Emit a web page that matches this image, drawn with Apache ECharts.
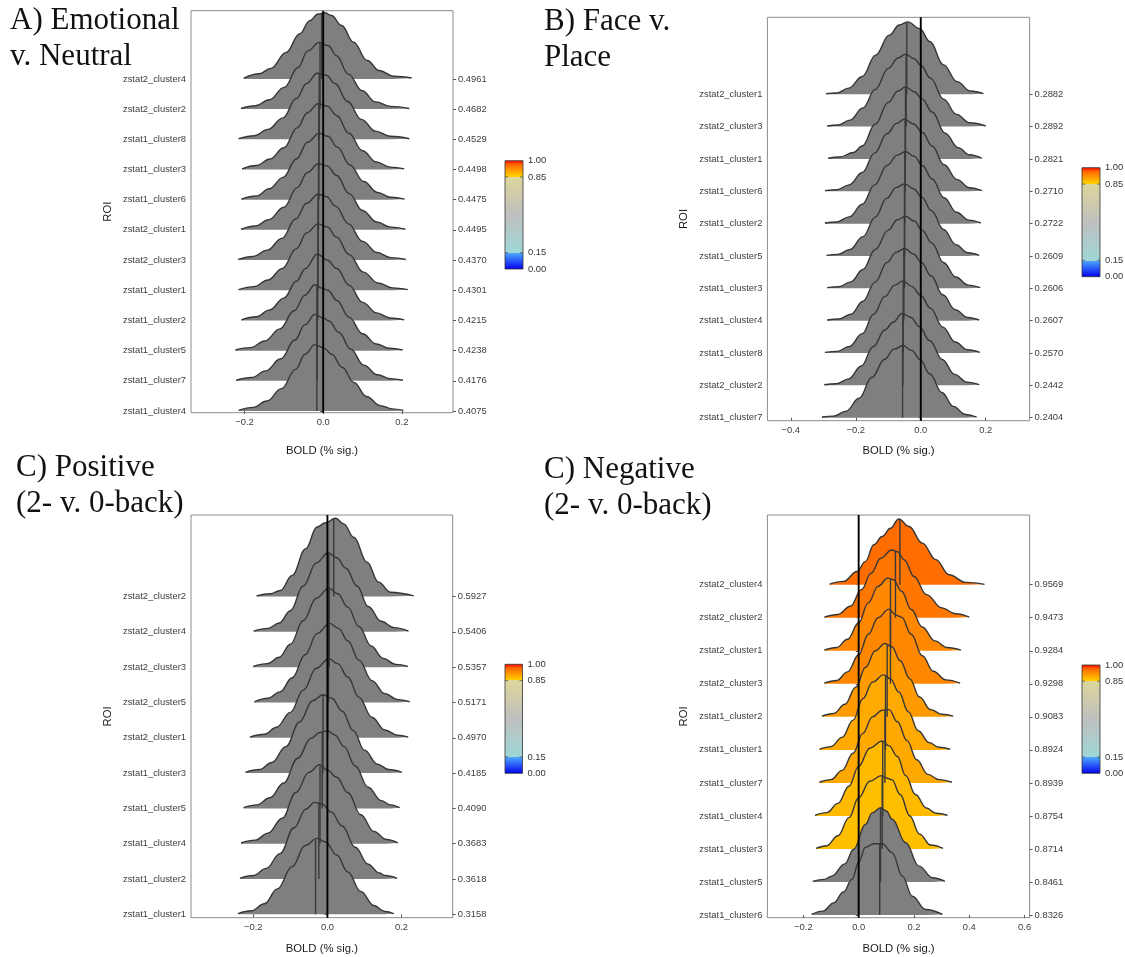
<!DOCTYPE html>
<html>
<head>
<meta charset="utf-8">
<script src="https://cdn.jsdelivr.net/npm/echarts@6/dist/echarts.min.js"></script>
<style>
html, body { margin: 0; padding: 0; background: #fff; }
#chart { width: 1125px; height: 957px; }
</style>
</head>
<body>
<div id="chart"></div>
<script>
// ---- data, ridges listed top to bottom; points are [BOLD, density height in ridge spacings]
var namesA = ['zstat2_cluster4','zstat2_cluster2','zstat1_cluster8','zstat1_cluster3','zstat1_cluster6','zstat2_cluster1',
              'zstat2_cluster3','zstat1_cluster1','zstat1_cluster2','zstat1_cluster5','zstat1_cluster7','zstat1_cluster4'];
var probsA = [0.4961,0.4682,0.4529,0.4498,0.4475,0.4495,0.4370,0.4301,0.4215,0.4238,0.4176,0.4075];
var mediansA = [-0.004,-0.008,-0.010,-0.011,-0.011,-0.012,-0.013,-0.013,-0.014,-0.016,-0.016,-0.016];
var ridgesA = [
  [[-0.202,0.02],[-0.163,0.17],[-0.133,0.35],[-0.094,0.88],[-0.060,1.49],[-0.034,1.93],[-0.013,2.15],[0.004,2.19],[0.021,2.10],[0.047,1.77],[0.077,1.22],[0.112,0.61],[0.142,0.28],[0.180,0.09],[0.225,0.03]],
  [[-0.209,0.02],[-0.172,0.11],[-0.137,0.31],[-0.099,0.72],[-0.064,1.38],[-0.039,1.93],[-0.010,2.21],[0.013,2.10],[0.034,1.77],[0.064,1.16],[0.099,0.61],[0.133,0.24],[0.172,0.09],[0.219,0.02]],
  [[-0.215,0.02],[-0.175,0.12],[-0.140,0.33],[-0.103,0.70],[-0.068,1.35],[-0.042,1.85],[-0.015,2.19],[0.008,2.12],[0.030,1.85],[0.062,1.25],[0.097,0.66],[0.133,0.27],[0.170,0.10],[0.219,0.02]],
  [[-0.206,0.02],[-0.170,0.13],[-0.135,0.35],[-0.100,0.72],[-0.066,1.38],[-0.040,1.88],[-0.013,2.18],[0.010,2.10],[0.035,1.78],[0.065,1.20],[0.100,0.62],[0.135,0.25],[0.170,0.08],[0.206,0.02]],
  [[-0.208,0.02],[-0.170,0.12],[-0.137,0.36],[-0.102,0.74],[-0.068,1.35],[-0.040,1.90],[-0.010,2.20],[0.012,2.10],[0.036,1.74],[0.068,1.15],[0.103,0.60],[0.138,0.24],[0.172,0.08],[0.207,0.02]],
  [[-0.209,0.02],[-0.172,0.13],[-0.138,0.34],[-0.100,0.75],[-0.066,1.40],[-0.040,1.90],[-0.012,2.19],[0.010,2.12],[0.034,1.80],[0.066,1.20],[0.100,0.64],[0.136,0.26],[0.172,0.09],[0.209,0.02]],
  [[-0.216,0.02],[-0.178,0.12],[-0.142,0.33],[-0.105,0.72],[-0.070,1.36],[-0.042,1.88],[-0.013,2.18],[0.008,2.10],[0.032,1.78],[0.064,1.20],[0.100,0.62],[0.137,0.25],[0.172,0.08],[0.210,0.02]],
  [[-0.215,0.02],[-0.176,0.12],[-0.140,0.34],[-0.104,0.72],[-0.068,1.38],[-0.042,1.90],[-0.013,2.20],[0.010,2.10],[0.034,1.76],[0.066,1.18],[0.102,0.60],[0.140,0.24],[0.176,0.08],[0.215,0.02]],
  [[-0.208,0.02],[-0.170,0.12],[-0.136,0.35],[-0.100,0.74],[-0.068,1.30],[-0.045,1.72],[-0.015,2.20],[0.010,2.00],[0.035,1.72],[0.066,1.16],[0.100,0.60],[0.136,0.25],[0.170,0.08],[0.206,0.02]],
  [[-0.223,0.02],[-0.185,0.10],[-0.148,0.32],[-0.110,0.72],[-0.074,1.32],[-0.046,1.84],[-0.021,2.18],[0.000,2.05],[0.012,2.00],[0.035,1.66],[0.066,1.10],[0.100,0.56],[0.135,0.22],[0.168,0.08],[0.202,0.02]],
  [[-0.221,0.02],[-0.182,0.11],[-0.146,0.33],[-0.108,0.73],[-0.072,1.35],[-0.046,1.86],[-0.021,2.20],[0.000,2.08],[0.015,1.98],[0.040,1.60],[0.070,1.05],[0.103,0.52],[0.138,0.20],[0.170,0.07],[0.203,0.02]],
  [[-0.215,0.02],[-0.178,0.12],[-0.143,0.33],[-0.106,0.74],[-0.070,1.38],[-0.046,1.88],[-0.021,2.20],[0.000,2.10],[0.022,1.88],[0.048,1.45],[0.078,0.95],[0.110,0.48],[0.145,0.18],[0.175,0.07],[0.204,0.02]]
];

var namesB = ['zstat2_cluster1','zstat2_cluster3','zstat1_cluster1','zstat1_cluster6','zstat1_cluster2','zstat1_cluster5',
              'zstat1_cluster3','zstat1_cluster4','zstat1_cluster8','zstat2_cluster2','zstat1_cluster7'];
var probsB = [0.2882,0.2892,0.2821,0.2710,0.2722,0.2609,0.2606,0.2607,0.2570,0.2442,0.2404];
var mediansB = [-0.043,-0.045,-0.047,-0.048,-0.049,-0.050,-0.050,-0.052,-0.054,-0.055,-0.056];
var ridgesB = [
  [[-0.292,0.02],[-0.259,0.04],[-0.222,0.19],[-0.180,0.55],[-0.139,1.21],[-0.097,1.83],[-0.066,2.14],[-0.040,2.24],[-0.003,2.03],[0.028,1.63],[0.070,0.91],[0.112,0.39],[0.153,0.10],[0.193,0.02]],
  [[-0.288,0.02],[-0.255,0.05],[-0.218,0.20],[-0.178,0.58],[-0.140,1.15],[-0.100,1.80],[-0.070,2.12],[-0.047,2.24],[-0.020,2.10],[0.000,1.90],[0.030,1.50],[0.070,0.85],[0.110,0.38],[0.150,0.12],[0.200,0.02]],
  [[-0.285,0.02],[-0.250,0.06],[-0.207,0.20],[-0.180,0.40],[-0.140,1.08],[-0.100,1.75],[-0.070,2.10],[-0.047,2.23],[-0.020,2.08],[0.005,1.85],[0.035,1.45],[0.075,0.80],[0.115,0.35],[0.150,0.13],[0.188,0.02]],
  [[-0.295,0.02],[-0.258,0.05],[-0.220,0.20],[-0.180,0.58],[-0.142,1.18],[-0.104,1.78],[-0.074,2.10],[-0.050,2.23],[-0.022,2.08],[0.005,1.82],[0.035,1.40],[0.072,0.82],[0.112,0.36],[0.150,0.11],[0.188,0.02]],
  [[-0.295,0.02],[-0.258,0.05],[-0.220,0.21],[-0.180,0.60],[-0.142,1.20],[-0.104,1.80],[-0.072,2.12],[-0.047,2.23],[-0.020,2.08],[0.005,1.80],[0.035,1.38],[0.072,0.80],[0.110,0.35],[0.148,0.11],[0.185,0.02]],
  [[-0.290,0.02],[-0.255,0.05],[-0.218,0.20],[-0.178,0.60],[-0.140,1.20],[-0.105,1.78],[-0.075,2.12],[-0.050,2.23],[-0.022,2.08],[0.003,1.82],[0.033,1.40],[0.070,0.82],[0.108,0.35],[0.145,0.10],[0.180,0.02]],
  [[-0.288,0.02],[-0.252,0.05],[-0.215,0.20],[-0.178,0.58],[-0.140,1.20],[-0.100,1.80],[-0.072,2.12],[-0.047,2.23],[-0.020,2.08],[0.004,1.80],[0.034,1.40],[0.070,0.80],[0.108,0.35],[0.146,0.10],[0.183,0.02]],
  [[-0.288,0.02],[-0.252,0.05],[-0.215,0.20],[-0.178,0.60],[-0.140,1.20],[-0.104,1.80],[-0.075,2.12],[-0.050,2.23],[-0.022,2.06],[0.002,1.80],[0.032,1.38],[0.068,0.80],[0.106,0.34],[0.144,0.10],[0.180,0.02]],
  [[-0.295,0.02],[-0.258,0.05],[-0.220,0.20],[-0.180,0.60],[-0.145,1.20],[-0.110,1.75],[-0.080,2.10],[-0.055,2.23],[-0.028,2.06],[0.000,1.78],[0.030,1.38],[0.068,0.80],[0.106,0.34],[0.144,0.10],[0.182,0.02]],
  [[-0.297,0.02],[-0.260,0.05],[-0.222,0.20],[-0.183,0.60],[-0.146,1.20],[-0.110,1.72],[-0.085,1.95],[-0.058,2.22],[-0.030,2.10],[-0.005,1.82],[0.028,1.38],[0.066,0.80],[0.104,0.34],[0.142,0.10],[0.180,0.02]],
  [[-0.304,0.02],[-0.268,0.05],[-0.230,0.20],[-0.190,0.60],[-0.150,1.25],[-0.112,1.80],[-0.082,2.12],[-0.055,2.23],[-0.028,2.08],[-0.002,1.80],[0.028,1.35],[0.065,0.78],[0.100,0.35],[0.138,0.10],[0.172,0.02]]
];

var namesC = ['zstat2_cluster2','zstat2_cluster4','zstat2_cluster3','zstat2_cluster5','zstat2_cluster1',
              'zstat1_cluster3','zstat1_cluster5','zstat1_cluster4','zstat1_cluster2','zstat1_cluster1'];
var probsC = [0.5927,0.5406,0.5357,0.5171,0.4970,0.4185,0.4090,0.3683,0.3618,0.3158];
var mediansC = [0.017,0.004,0.005,0.003,0.001,-0.012,-0.014,-0.020,-0.023,-0.032];
var ridgesC = [
  [[-0.191,0.02],[-0.154,0.08],[-0.127,0.17],[-0.095,0.60],[-0.059,1.35],[-0.028,1.97],[-0.005,2.09],[0.022,2.22],[0.044,2.06],[0.071,1.68],[0.107,0.97],[0.138,0.41],[0.170,0.12],[0.233,0.02]],
  [[-0.199,0.02],[-0.160,0.10],[-0.130,0.25],[-0.100,0.60],[-0.065,1.30],[-0.030,1.95],[0.002,2.24],[0.025,2.10],[0.050,1.80],[0.080,1.30],[0.110,0.72],[0.145,0.30],[0.180,0.12],[0.219,0.02]],
  [[-0.200,0.02],[-0.162,0.10],[-0.130,0.28],[-0.100,0.65],[-0.065,1.32],[-0.030,1.95],[0.004,2.24],[0.028,2.08],[0.055,1.70],[0.085,1.15],[0.118,0.60],[0.150,0.25],[0.185,0.08],[0.217,0.02]],
  [[-0.197,0.02],[-0.160,0.12],[-0.128,0.30],[-0.095,0.70],[-0.060,1.35],[-0.028,1.95],[0.006,2.24],[0.030,2.10],[0.055,1.75],[0.085,1.20],[0.120,0.62],[0.155,0.25],[0.190,0.08],[0.222,0.02]],
  [[-0.209,0.02],[-0.170,0.10],[-0.137,0.30],[-0.100,0.72],[-0.065,1.35],[-0.030,1.97],[0.004,2.24],[0.028,2.10],[0.055,1.72],[0.085,1.15],[0.120,0.58],[0.155,0.22],[0.190,0.07],[0.218,0.02]],
  [[-0.221,0.02],[-0.183,0.10],[-0.150,0.30],[-0.112,0.75],[-0.075,1.45],[-0.040,2.05],[-0.012,2.22],[0.012,2.12],[0.040,1.75],[0.070,1.20],[0.100,0.65],[0.135,0.25],[0.165,0.10],[0.201,0.02]],
  [[-0.226,0.02],[-0.190,0.10],[-0.155,0.30],[-0.118,0.72],[-0.080,1.42],[-0.045,1.98],[-0.020,2.15],[0.000,2.20],[0.020,2.08],[0.045,1.75],[0.075,1.20],[0.110,0.60],[0.145,0.22],[0.170,0.10],[0.195,0.02]],
  [[-0.233,0.02],[-0.195,0.10],[-0.160,0.30],[-0.122,0.72],[-0.085,1.45],[-0.050,2.02],[-0.021,2.24],[0.000,2.08],[0.025,1.88],[0.055,1.45],[0.090,0.82],[0.125,0.35],[0.160,0.12],[0.190,0.02]],
  [[-0.236,0.02],[-0.200,0.10],[-0.165,0.30],[-0.128,0.72],[-0.090,1.45],[-0.058,1.98],[-0.035,2.17],[-0.014,2.12],[0.010,1.90],[0.040,1.50],[0.075,0.90],[0.110,0.42],[0.140,0.17],[0.155,0.10],[0.188,0.02]],
  [[-0.241,0.02],[-0.205,0.10],[-0.170,0.30],[-0.135,0.72],[-0.095,1.35],[-0.060,1.95],[-0.028,2.15],[-0.005,2.05],[0.025,1.68],[0.055,1.20],[0.090,0.65],[0.125,0.25],[0.155,0.08],[0.179,0.02]]
];

var namesD = ['zstat2_cluster4','zstat2_cluster2','zstat2_cluster1','zstat2_cluster3','zstat1_cluster2','zstat1_cluster1',
              'zstat1_cluster7','zstat1_cluster4','zstat1_cluster3','zstat1_cluster5','zstat1_cluster6'];
var probsD = [0.9569,0.9473,0.9284,0.9298,0.9083,0.8924,0.8939,0.8754,0.8714,0.8461,0.8326];
var mediansD = [0.149,0.133,0.115,0.115,0.103,0.097,0.095,0.087,0.085,0.079,0.076];
var ridgesD = [
  [[-0.105,0.02],[-0.055,0.10],[-0.006,0.40],[0.024,0.70],[0.055,1.21],[0.085,1.46],[0.115,1.71],[0.145,1.99],[0.182,1.76],[0.230,1.26],[0.279,0.76],[0.327,0.30],[0.388,0.07],[0.455,0.01]],
  [[-0.124,0.02],[-0.075,0.10],[-0.030,0.35],[0.010,0.85],[0.045,1.35],[0.080,1.80],[0.119,2.05],[0.140,2.00],[0.165,1.75],[0.200,1.25],[0.245,0.70],[0.300,0.30],[0.350,0.12],[0.400,0.02]],
  [[-0.124,0.02],[-0.080,0.10],[-0.040,0.35],[0.000,0.85],[0.035,1.45],[0.070,1.95],[0.105,2.20],[0.125,2.15],[0.155,1.80],[0.190,1.25],[0.230,0.72],[0.275,0.30],[0.320,0.10],[0.370,0.02]],
  [[-0.124,0.02],[-0.080,0.10],[-0.040,0.36],[0.000,0.88],[0.035,1.50],[0.070,2.00],[0.109,2.26],[0.135,2.08],[0.155,2.02],[0.190,1.50],[0.230,0.85],[0.270,0.38],[0.315,0.12],[0.367,0.02]],
  [[-0.133,0.02],[-0.090,0.10],[-0.050,0.38],[-0.010,0.90],[0.025,1.50],[0.060,2.00],[0.095,2.22],[0.120,2.12],[0.150,1.70],[0.185,1.15],[0.220,0.60],[0.260,0.22],[0.300,0.08],[0.342,0.02]],
  [[-0.142,0.02],[-0.100,0.10],[-0.060,0.38],[-0.020,0.90],[0.015,1.55],[0.050,2.05],[0.090,2.27],[0.115,2.15],[0.145,1.75],[0.180,1.15],[0.215,0.58],[0.255,0.22],[0.290,0.08],[0.331,0.02]],
  [[-0.142,0.02],[-0.100,0.10],[-0.060,0.38],[-0.020,0.90],[0.015,1.50],[0.050,2.00],[0.085,2.20],[0.110,2.22],[0.140,1.85],[0.175,1.28],[0.210,0.70],[0.250,0.26],[0.290,0.10],[0.337,0.02]],
  [[-0.158,0.02],[-0.115,0.10],[-0.075,0.38],[-0.035,0.90],[0.000,1.50],[0.040,2.05],[0.085,2.27],[0.110,2.12],[0.140,1.80],[0.170,1.22],[0.205,0.65],[0.245,0.24],[0.280,0.08],[0.321,0.02]],
  [[-0.154,0.02],[-0.115,0.10],[-0.075,0.40],[-0.035,0.95],[0.000,1.55],[0.040,2.05],[0.082,2.22],[0.100,2.15],[0.120,2.10],[0.150,1.65],[0.185,1.00],[0.220,0.45],[0.260,0.12],[0.305,0.02]],
  [[-0.166,0.02],[-0.125,0.08],[-0.097,0.18],[-0.050,0.55],[-0.018,0.99],[0.024,1.74],[0.050,2.10],[0.079,2.25],[0.100,2.15],[0.121,1.90],[0.170,1.19],[0.218,0.48],[0.267,0.13],[0.312,0.02]],
  [[-0.170,0.02],[-0.130,0.12],[-0.090,0.37],[-0.055,0.70],[-0.024,1.08],[0.000,1.60],[0.024,2.05],[0.055,2.16],[0.085,2.16],[0.121,1.89],[0.158,1.18],[0.194,0.57],[0.242,0.17],[0.303,0.02]]
];

var xTicksA = [-0.2, 0, 0.2];
var xTicksB = [-0.4, -0.2, 0, 0.2];
var xTicksC = [-0.2, 0, 0.2];
var xTicksD = [-0.2, 0, 0.2, 0.4, 0.6];
var barLabels = [1, 0.85, 0.15, 0];

// ---- layout of the four panels
var panels = [
  { names: namesA, probs: probsA, medians: mediansA, ridges: ridgesA, ticks: xTicksA,
    box: [191, 10.7, 262, 402], xr: [-0.336, 0.330], pad: [0.056, 2.26], nameGap: 33,
    title: ['A) Emotional', 'v. Neutral'], tx: 10, ty: [21, 57], bar: [505, 160.7, 18, 108.3] },
  { names: namesB, probs: probsB, medians: mediansB, ridges: ridgesB, ticks: xTicksB,
    box: [767.4, 17.3, 262.2, 403.4], xr: [-0.472, 0.335], pad: [0.093, 2.38], nameGap: 25,
    title: ['B) Face v.', 'Place'], tx: 544, ty: [22, 58], bar: [1082, 167.7, 18, 109] },
  { names: namesC, probs: probsC, medians: mediansC, ridges: ridgesC, ticks: xTicksC,
    box: [191, 515, 261.7, 402.7], xr: [-0.368, 0.338], pad: [0.096, 2.31], nameGap: 26,
    title: ['C) Positive', '(2- v. 0-back)'], tx: 16, ty: [468, 504], bar: [505, 664.3, 17.5, 109] },
  { names: namesD, probs: probsD, medians: mediansD, ridges: ridgesD, ticks: xTicksD,
    box: [767.4, 515, 262.2, 402.7], xr: [-0.330, 0.618], pad: [0.08, 2.11], nameGap: 26,
    title: ['C) Negative', '(2- v. 0-back)'], tx: 544, ty: [470, 506], bar: [1082, 665, 18, 108.3] }
];

function lerpColor(c1, c2, t) {
  var a = [parseInt(c1.substr(1,2),16), parseInt(c1.substr(3,2),16), parseInt(c1.substr(5,2),16)];
  var b = [parseInt(c2.substr(1,2),16), parseInt(c2.substr(3,2),16), parseInt(c2.substr(5,2),16)];
  return 'rgb(' + a.map(function (v, i) { return Math.round(v + (b[i] - v) * t); }).join(',') + ')';
}
function ridgeColor(p) {
  if (p >= 0.96) return lerpColor('#ff6a00', '#ff0000', (p - 0.96) / 0.04);
  if (p >= 0.85) return lerpColor('#ffd200', '#ff6a00', (p - 0.85) / 0.11);
  if (p <= 0.15) return lerpColor('#0000ff', '#4daaff', p / 0.15);
  return '#7f7f7f';
}
function heightAt(pts, x) {
  for (var i = 0; i < pts.length - 1; i++) {
    if (x >= pts[i][0] && x <= pts[i + 1][0]) {
      var t = (x - pts[i][0]) / (pts[i + 1][0] - pts[i][0]);
      return pts[i][1] + (pts[i + 1][1] - pts[i][1]) * t;
    }
  }
  return 0;
}
function fmtX(v) {
  return (Math.abs(v) < 1e-9 ? '0.0' : v.toFixed(1)).replace('-', '\u2212');
}

var labelFont = 'Liberation Sans';
var grids = [], xAxes = [], yAxes = [], series = [], graphics = [];

panels.forEach(function (p, pi) {
  var n = p.names.length;
  var idx = p.names.map(function (_, k) { return k; });
  grids.push({ left: p.box[0], top: p.box[1], width: p.box[2], height: p.box[3],
               show: true, borderColor: '#8c8c8c', borderWidth: 1 });
  xAxes.push({
    gridIndex: pi, type: 'value', min: p.xr[0], max: p.xr[1],
    axisLine: { show: false }, splitLine: { show: false },
    axisTick: { show: true, customValues: p.ticks, length: 3, lineStyle: { color: '#555' } },
    axisLabel: { customValues: p.ticks, formatter: fmtX, fontSize: 9.4, color: '#3d3d3d', margin: 5, fontFamily: labelFont },
    name: 'BOLD (% sig.)', nameLocation: 'middle', nameGap: p.nameGap,
    nameTextStyle: { fontSize: 11.3, color: '#1a1a1a', fontFamily: labelFont }
  });
  yAxes.push({
    gridIndex: pi, type: 'value', position: 'left', min: -p.pad[0], max: n - 1 + p.pad[1],
    axisLine: { show: false }, splitLine: { show: false },
    axisTick: { show: true, customValues: idx, length: 3, lineStyle: { color: '#555' } },
    axisLabel: { customValues: idx, fontSize: 9.4, color: '#3d3d3d', margin: 5, fontFamily: labelFont,
                 formatter: function (v) { return p.names[n - 1 - Math.round(v)]; } },
    name: 'ROI', nameLocation: 'middle', nameGap: 78,
    nameTextStyle: { fontSize: 11.3, color: '#1a1a1a', fontFamily: labelFont }
  });
  yAxes.push({
    gridIndex: pi, type: 'value', position: 'right', min: -p.pad[0], max: n - 1 + p.pad[1],
    axisLine: { show: false }, splitLine: { show: false },
    axisTick: { show: true, customValues: idx, length: 3, lineStyle: { color: '#555' } },
    axisLabel: { customValues: idx, fontSize: 9.4, color: '#3d3d3d', margin: 5, fontFamily: labelFont,
                 formatter: function (v) { return p.probs[n - 1 - Math.round(v)].toFixed(4); } }
  });

  for (var k = 0; k < n; k++) {
    var base = n - 1 - k;
    var pts = p.ridges[k].map(function (d) { return [d[0], base + d[1]]; });
    var m = p.medians[k];
    var common = { xAxisIndex: pi, yAxisIndex: 2 * pi, symbol: 'none', silent: true, animation: false };
    // fill, then the median line, then the outline on top
    series.push(Object.assign({ type: 'line', data: pts, smooth: 0.4, smoothMonotone: 'x',
      lineStyle: { width: 0, opacity: 0 },
      areaStyle: { color: ridgeColor(p.probs[k]), opacity: 1, origin: base } }, common));
    series.push(Object.assign({ type: 'line', data: [[m, base], [m, base + heightAt(p.ridges[k], m) - 0.01]],
      lineStyle: { color: '#3a3a3a', width: 1.4 } }, common));
    series.push(Object.assign({ type: 'line', data: pts, smooth: 0.4, smoothMonotone: 'x',
      lineStyle: { color: '#363636', width: 1.4 } }, common));
  }
  series.push({ type: 'line', xAxisIndex: pi, yAxisIndex: 2 * pi, symbol: 'none', silent: true, animation: false,
    data: [[0, -p.pad[0]], [0, n - 1 + p.pad[1]]], lineStyle: { color: '#000', width: 1.9 } });

  // titles
  p.title.forEach(function (t, li) {
    graphics.push({ type: 'text', x: p.tx, y: p.ty[li],
      style: { text: t, font: '31px "Liberation Serif"', fill: '#111', verticalAlign: 'middle' } });
  });

  // colour bar
  var b = p.bar;
  graphics.push({ type: 'rect', shape: { x: b[0], y: b[1], width: b[2], height: b[3] },
    style: { stroke: '#333', lineWidth: 0.8,
      fill: new echarts.graphic.LinearGradient(0, 1, 0, 0, [
        { offset: 0, color: '#0000ee' }, { offset: 0.149, color: '#4da6ff' },
        { offset: 0.151, color: '#9fd7d7' }, { offset: 0.5, color: '#bfbfbf' },
        { offset: 0.849, color: '#ddd69b' }, { offset: 0.851, color: '#ffd200' },
        { offset: 0.96, color: '#ff6a00' }, { offset: 1, color: '#ff0000' }]) } });
  barLabels.forEach(function (v) {
    var yy = b[1] + (1 - v) * b[3];
    if (v > 0 && v < 1) {
      graphics.push({ type: 'line', shape: { x1: b[0], y1: yy, x2: b[0] + 3, y2: yy }, style: { stroke: '#444', lineWidth: 0.7 } });
      graphics.push({ type: 'line', shape: { x1: b[0] + b[2] - 3, y1: yy, x2: b[0] + b[2], y2: yy }, style: { stroke: '#444', lineWidth: 0.7 } });
    }
    graphics.push({ type: 'text', x: b[0] + b[2] + 5, y: yy,
      style: { text: v.toFixed(2), font: '9.4px "Liberation Sans"', fill: '#333', verticalAlign: 'middle' } });
  });
});

var chart = echarts.init(document.getElementById('chart'), null, { renderer: 'canvas' });
chart.setOption({
  animation: false,
  backgroundColor: '#fff',
  grid: grids,
  xAxis: xAxes,
  yAxis: yAxes,
  series: series,
  graphic: graphics
});
</script>
</body>
</html>
